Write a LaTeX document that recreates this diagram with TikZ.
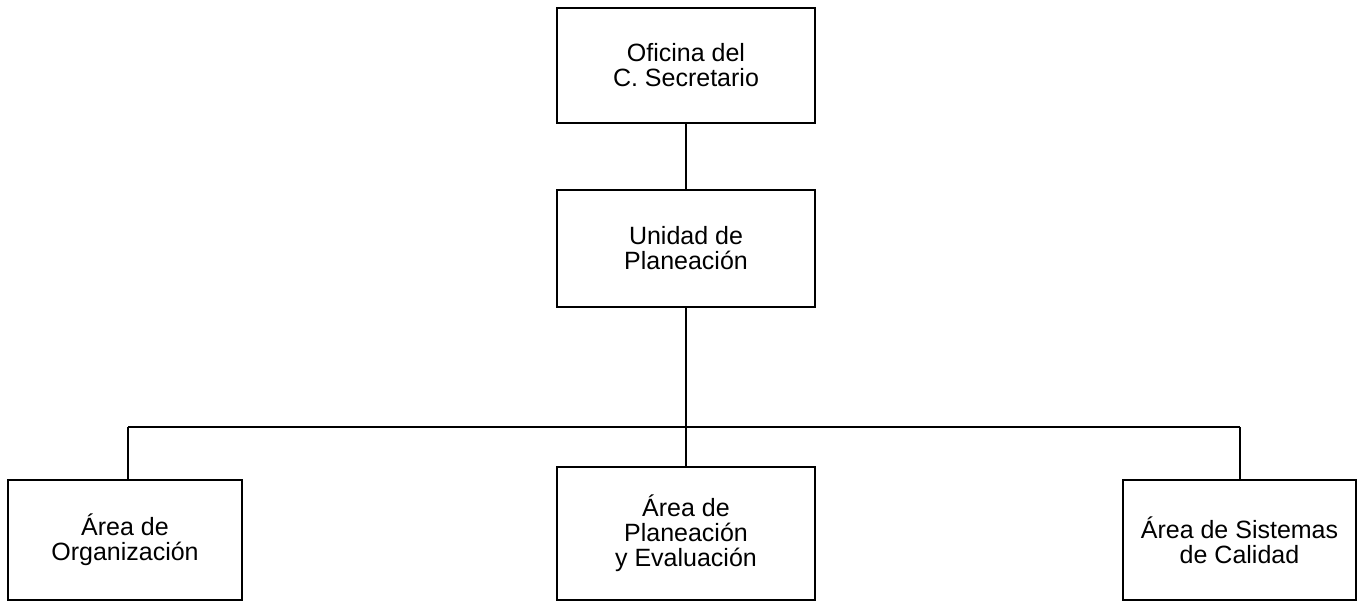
\documentclass[tikz,border=0pt]{standalone}
\usepackage{fontspec}
\setmainfont{Liberation Sans}
\begin{document}
\begin{tikzpicture}[x=1pt,y=-1pt,
  orgbox/.style={draw, line width=2pt, rectangle, align=center, inner sep=0pt,
    font=\fontsize{25pt}{25pt}\selectfont},
  conn/.style={line width=2pt}]
\useasboundingbox (0,0) rectangle (1366,607);
\node[orgbox, minimum width=258pt, minimum height=115pt] (top) at (686,65.5) {Oficina del\\C. Secretario};
\node[orgbox, minimum width=258pt, minimum height=117pt] (mid) at (686,248.5) {Unidad de\\Planeación};
\node[orgbox, minimum width=234pt, minimum height=120pt] (bl) at (125,540) {Área de\\Organización};
\node[orgbox, minimum width=258pt, minimum height=133pt] (bm) at (686,533.5) {Área de\\Planeación\\y Evaluación};
\node[orgbox, minimum width=233pt, minimum height=120pt] (br) at (1239.5,540) {Área de Sistemas\\de Calidad};
\coordinate (busl) at (128,427);
\coordinate (busr) at (1240,427);
\draw[conn] (top.south) -- (mid.north);
\draw[conn] (mid.south) -- (bm.north);
\draw[conn] (busl) -- (busr);
\draw[conn] (busl) -- (busl |- bl.north);
\draw[conn] (busr) -- (busr |- br.north);
\end{tikzpicture}
\end{document}
